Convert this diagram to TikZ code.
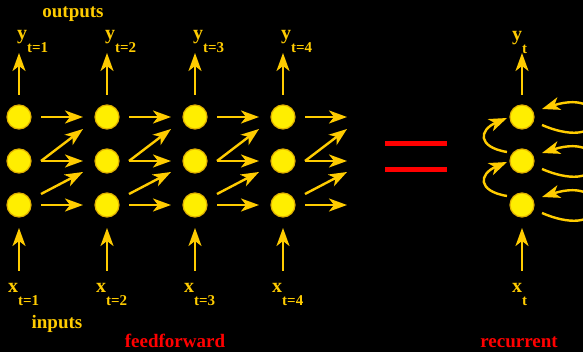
\documentclass[tikz,border=0pt]{standalone}
\usepackage{fontspec}
\setmainfont{Liberation Serif}
\usetikzlibrary{arrows.meta}

\definecolor{gold}{HTML}{FFCC00}
\definecolor{bulb}{HTML}{FFEE00}
\definecolor{rim}{HTML}{E0B000}
\definecolor{netred}{HTML}{FF0000}

\tikzset{
  unit/.style={circle, fill=bulb, draw=rim, line width=1.2pt, minimum size=24pt, inner sep=0pt, outer sep=0pt},
  arr/.style={draw=gold, line width=2.4pt, -{Stealth[length=18pt,width=13pt,inset=5pt]}},
  lbl/.style={text=gold, font=\bfseries\fontsize{20}{20}\selectfont, inner sep=0pt, anchor=base west},
  title/.style={font=\bfseries\fontsize{19}{19}\selectfont, inner sep=0pt, anchor=base}
}
\newcommand{\lowsub}[1]{\raisebox{-12.5pt}{\fontsize{15}{15}\selectfont #1}}

\begin{document}
\begin{tikzpicture}[x=1pt, y=-1pt]
      \fill[black] (0,0) rectangle (583,352);
      \clip (0,0) rectangle (583,352);

      \node[unit] (t1) at (19,117) {}; \node[unit] (t2) at (107,117) {}; \node[unit] (t3) at (195,117) {}; \node[unit] (t4) at (283,117) {};
      \node[unit] (m1) at (19,161) {}; \node[unit] (m2) at (107,161) {}; \node[unit] (m3) at (195,161) {}; \node[unit] (m4) at (283,161) {};
      \node[unit] (b1) at (19,205) {}; \node[unit] (b2) at (107,205) {}; \node[unit] (b3) at (195,205) {}; \node[unit] (b4) at (283,205) {};

      \node[unit] (r1) at (522,117) {};
      \node[unit] (r2) at (522,161) {};
      \node[unit] (r3) at (522,205) {};

      \coordinate (e1) at (347,117); \coordinate (e2) at (347,129); \coordinate (e3) at (347,161);
      \coordinate (e4) at (347,172); \coordinate (e5) at (347,205);

      \node[lbl] (y1) at (17,40) {y\lowsub{t=1}}; \node[lbl] (y2) at (105,40) {y\lowsub{t=2}};
      \node[lbl] (y3) at (193,40) {y\lowsub{t=3}}; \node[lbl] (y4) at (281,40) {y\lowsub{t=4}};
      \node[lbl] (yt) at (512,41) {y\lowsub{t}};

      \node[lbl] (x1) at (8,293) {x\lowsub{t=1}}; \node[lbl] (x2) at (96,293) {x\lowsub{t=2}};
      \node[lbl] (x3) at (184,293) {x\lowsub{t=3}}; \node[lbl] (x4) at (272,293) {x\lowsub{t=4}};
      \node[lbl] (xt) at (512,293) {x\lowsub{t}};

      \node[title, text=gold] (outs) at (73,18) {outputs};
      \node[title, text=gold] (ins) at (57,328) {inputs};
      \node[title, text=netred] (ff) at (175,347) {feedforward};
      \node[title, text=netred] (rec) at (519,347) {recurrent};

      % outputs and inputs
      \draw[arr] ([yshift=10pt]t1.north) -- ([yshift=52pt]t1.north);
      \draw[arr] ([yshift=10pt]t2.north) -- ([yshift=52pt]t2.north);
      \draw[arr] ([yshift=10pt]t3.north) -- ([yshift=52pt]t3.north);
      \draw[arr] ([yshift=10pt]t4.north) -- ([yshift=52pt]t4.north);
      \draw[arr] ([yshift=10pt]r1.north) -- ([yshift=52pt]r1.north);
      \draw[arr] ([yshift=-54pt]b1.south) -- ([yshift=-11pt]b1.south);
      \draw[arr] ([yshift=-54pt]b2.south) -- ([yshift=-11pt]b2.south);
      \draw[arr] ([yshift=-54pt]b3.south) -- ([yshift=-11pt]b3.south);
      \draw[arr] ([yshift=-54pt]b4.south) -- ([yshift=-11pt]b4.south);
      \draw[arr] ([yshift=-54pt]r3.south) -- ([yshift=-11pt]r3.south);

      % feedforward
      \draw[arr] ([xshift=22pt]t1.center) -- ([xshift=-24pt]t2.center);
      \draw[arr] ([xshift=22pt]m1.center) -- ([xshift=-24pt,yshift=-12pt]t2.center);
      \draw[arr] ([xshift=22pt]m1.center) -- ([xshift=-24pt]m2.center);
      \draw[arr] ([xshift=22pt,yshift=11pt]b1.center) -- ([xshift=-24pt,yshift=-11pt]m2.center);
      \draw[arr] ([xshift=22pt]b1.center) -- ([xshift=-24pt]b2.center);

      \draw[arr] ([xshift=22pt]t2.center) -- ([xshift=-24pt]t3.center);
      \draw[arr] ([xshift=22pt]m2.center) -- ([xshift=-24pt,yshift=-12pt]t3.center);
      \draw[arr] ([xshift=22pt]m2.center) -- ([xshift=-24pt]m3.center);
      \draw[arr] ([xshift=22pt,yshift=11pt]b2.center) -- ([xshift=-24pt,yshift=-11pt]m3.center);
      \draw[arr] ([xshift=22pt]b2.center) -- ([xshift=-24pt]b3.center);

      \draw[arr] ([xshift=22pt]t3.center) -- ([xshift=-24pt]t4.center);
      \draw[arr] ([xshift=22pt]m3.center) -- ([xshift=-24pt,yshift=-12pt]t4.center);
      \draw[arr] ([xshift=22pt]m3.center) -- ([xshift=-24pt]m4.center);
      \draw[arr] ([xshift=22pt,yshift=11pt]b3.center) -- ([xshift=-24pt,yshift=-11pt]m4.center);
      \draw[arr] ([xshift=22pt]b3.center) -- ([xshift=-24pt]b4.center);

      \draw[arr] ([xshift=22pt]t4.center) -- (e1);
      \draw[arr] ([xshift=22pt]m4.center) -- (e2);
      \draw[arr] ([xshift=22pt]m4.center) -- (e3);
      \draw[arr] ([xshift=22pt,yshift=11pt]b4.center) -- (e4);
      \draw[arr] ([xshift=22pt]b4.center) -- (e5);

      % equals sign
      \fill[netred] (385,141) rectangle (447,146);
      \fill[netred] (385,167) rectangle (447,172);

      % recurrent
      \draw[arr] ([xshift=-15pt,yshift=9pt]r2.center) .. controls +(-30,-5) and +(-28,12) .. ([xshift=-15pt,yshift=-1pt]r1.center);
      \draw[arr] ([xshift=-15pt,yshift=9pt]r3.center) .. controls +(-30,-5) and +(-28,12) .. ([xshift=-15pt,yshift=-1pt]r2.center);
      \draw[arr] ([xshift=20pt,yshift=-8pt]r1.center) .. controls +(70,30) and +(70,-22) .. ([xshift=20pt,yshift=8pt]r1.center);
      \draw[arr] ([xshift=20pt,yshift=-8pt]r2.center) .. controls +(70,30) and +(70,-22) .. ([xshift=20pt,yshift=8pt]r2.center);
      \draw[arr] ([xshift=20pt,yshift=-8pt]r3.center) .. controls +(70,30) and +(70,-22) .. ([xshift=20pt,yshift=8pt]r3.center);
\end{tikzpicture}
\end{document}
